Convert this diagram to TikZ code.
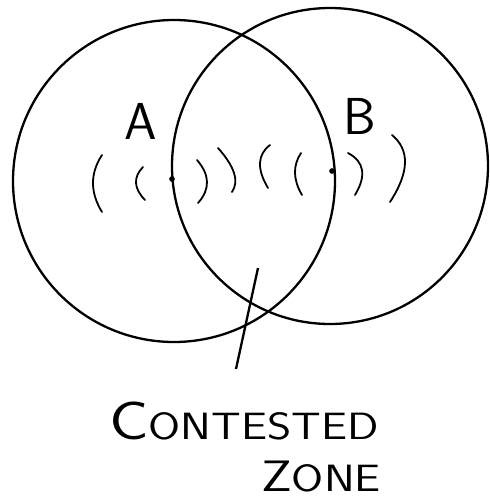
\documentclass[tikz,border=0pt]{standalone}
\usepackage{fontspec}
\usetikzlibrary{positioning}

\tikzset{
  ring/.style={draw, circle, line width=2.3pt, inner sep=0pt},
  wave/.style={line width=1.8pt, line cap=round},
  dotmark/.style={circle, fill, inner sep=2pt},
  letter/.style={font=\sffamily\fontsize{52}{52}\selectfont},
  caption/.style={font=\sffamily\fontsize{38}{40}\selectfont, inner sep=0pt, anchor=base,
    xscale=1.22, transform shape}
}

\begin{document}
\begin{tikzpicture}[x=1pt, y=-1pt]
    \useasboundingbox (0,0) rectangle (490,499);
    % the two ranges
    \node[ring, minimum size=322pt] (rangeA) at (174,181) {};
    \node[ring, minimum size=316pt] (rangeB) at (330,166) {};
    % sources
    \node[dotmark] (A) at (172,179) {};
    \node[dotmark] (B) at (332,171) {};
    \node[letter] (labA) at (141,121) {A};
    \node[letter] (labB) at (360,116) {B};
    % waves
    \foreach \xa/\ya/\xb/\yb/\xc/\yc in {102/155/93/183/102/212, 143/167/136/183/145/200,
        197/160/207/182/198/203, 218/148/234/173/232/192,
        270/145/260/163/268/188, 301/153/295/173/302/195,
        348/153/362/170/355/195, 392/135/405/163/390/202}
        \draw[wave] (\xa,\ya)
          .. controls ({\xa/3+2/3*(2*\xb-(\xa+\xc)/2)},{\ya/3+2/3*(2*\yb-(\ya+\yc)/2)})
          and ({\xc/3+2/3*(2*\xb-(\xa+\xc)/2)},{\yc/3+2/3*(2*\yb-(\ya+\yc)/2)}) .. (\xc,\yc);
    % pointer and caption
    \coordinate (ptrtop) at (258,268);
    \coordinate (ptrend) at (236,369);
    \draw[line width=2.3pt] (ptrtop) -- (ptrend);
    \node[caption] (contested) at (244,439) {{\fontsize{54}{54}\selectfont C}ONTESTED};
    \node[caption] (zone) at (321,491) {{\fontsize{44}{44}\selectfont Z}ONE};
\end{tikzpicture}
\end{document}
